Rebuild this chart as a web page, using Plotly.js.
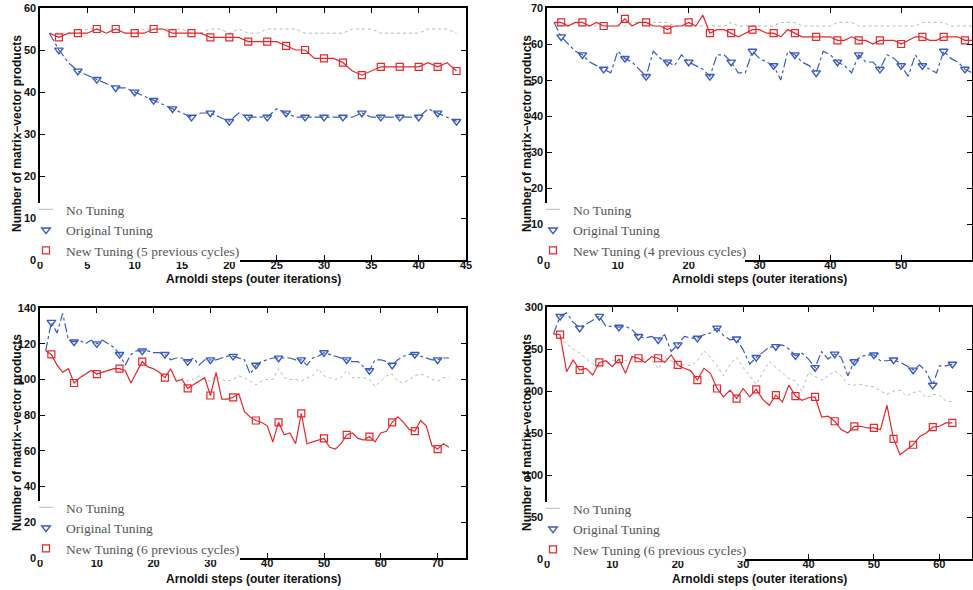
<!DOCTYPE html>
<html><head><meta charset="utf-8">
<script src="https://cdn.plot.ly/plotly-3.0.1.min.js"></script>
<style>html,body{margin:0;padding:0;background:#fff}#chart{width:973px;height:590px}</style>
</head><body><div id="chart"></div>
<script>
// ---------- DATA ----------
const tlSteps = [1,2,3,4,5,6,7,8,9,10,11,12,13,14,15,16,17,18,19,20,21,22,23,24,25,26,27,28,29,30,31,32,33,34,35,36,37,38,39,40,41,42,43,44];
const tlNoTuning = [54,54,54,54,55,55,54,55,54,54,55,55,55,55,55,54,54,55,55,54,55,54,54,55,55,55,55,54,54,54,54,54,55,55,55,54,54,54,54,54,55,55,55,54];
const tlOriginal = [54,50,47,45,44,43,42,41,41,40,39,38,37,36,35,34,35,35,34,33,35,34,34,34,36,35,34,34,34,34,34,34,34,35,34,34,34,34,34,34,36,35,34,33];
const tlNew = [54,53,54,54,54,55,54,55,54,54,54,55,55,54,54,54,54,53,53,53,53,52,52,52,52,51,50,50,48,48,48,47,45,44,45,46,46,46,46,46,47,46,47,45];

const trSteps = [1,2,3,4,5,6,7,8,9,10,11,12,13,14,15,16,17,18,19,20,21,22,23,24,25,26,27,28,29,30,31,32,33,34,35,36,37,38,39,40,41,42,43,44,45,46,47,48,49,50,51,52,53,54,55,56,57,58,59,60];
const trNoTuning = [66,65,65,66,65,65,65,65,65,65,65,66,66,66,66,66,66,65,65,65,65,65,65,65,65,66,65,65,65,65,65,65,66,66,66,65,65,65,65,65,66,66,66,65,65,65,65,65,65,65,65,65,66,66,66,66,65,65,65,65];
const trOriginal = [66,62,60,58,57,55,54,53,52,58,56,55,53,51,58,56,55,54,57,55,54,53,51,57,57,55,52,52,58,56,55,54,50,58,57,55,54,52,58,57,55,54,52,57,55,55,53,57,56,54,51,57,54,53,52,58,56,55,53,52];
const trNew = [66,66,65,66,66,65,66,65,65,65,67,65,66,66,65,65,64,65,65,66,65,68,63,64,64,63,62,63,64,64,63,63,62,64,63,62,62,62,62,62,61,61,62,61,61,60,61,61,61,60,61,62,62,61,61,62,62,62,61,61];

const blSteps = [1,2,3,4,5,6,7,8,9,10,11,12,13,14,15,16,17,18,19,20,21,22,23,24,25,26,27,28,29,30,31,32,33,34,35,36,37,38,39,40,41,42,43,44,45,46,47,48,49,50,51,52,53,54,55,56,57,58,59,60,61,62,63,64,65,66,67,68,69,70,71,72];
const blNoTuning = [116,114,108,104,106,98,101,103,105,103,104,105,106,106,105,98,104,110,107,106,104,101,106,99,101,99,100,102,100,99,102,100,99,100,102,101,99,97,99,100,100,106,101,100,100,99,101,102,106,102,101,100,101,105,101,101,101,100,96,99,102,103,99,98,100,102,103,102,100,99,101,101];
const blOriginal = [116,132,126,137,122,121,122,120,122,120,122,120,118,114,108,114,116,116,116,115,115,114,111,112,112,110,112,108,111,111,111,112,113,113,112,111,103,108,110,111,112,112,112,112,111,111,108,112,113,115,114,113,112,111,110,110,107,105,111,111,110,108,111,113,114,114,113,112,111,111,112,112];
const blNew = [116,114,108,104,106,98,101,103,105,103,104,105,106,106,105,98,104,110,107,106,104,101,106,99,100,95,97,99,101,91,104,89,89,90,92,82,79,77,76,74,65,76,69,70,64,81,64,65,66,67,62,61,64,69,70,67,66,68,65,70,71,76,79,76,72,71,77,74,63,61,64,62];

const brSteps = [1,2,3,4,5,6,7,8,9,10,11,12,13,14,15,16,17,18,19,20,21,22,23,24,25,26,27,28,29,30,31,32,33,34,35,36,37,38,39,40,41,42,43,44,45,46,47,48,49,50,51,52,53,54,55,56,57,58,59,60,61,62];
const brNoTuning = [268,262,255,250,245,238,232,228,232,236,238,236,238,240,237,238,226,240,236,233,231,230,236,248,240,230,218,232,240,228,218,208,222,235,228,222,215,212,200,222,218,213,218,224,218,208,207,208,206,205,200,196,200,201,194,198,200,192,196,195,188,187];
const brOriginal = [268,289,293,282,275,280,285,289,277,277,276,277,273,265,263,265,261,267,247,255,265,263,263,267,269,275,266,261,262,249,232,240,246,252,253,255,250,242,245,238,228,247,238,244,240,218,235,241,243,243,236,236,237,234,230,225,231,223,207,230,230,232];
const brNew = [268,267,223,237,225,227,219,234,236,229,238,221,241,239,234,241,239,234,243,231,227,224,213,227,221,203,193,201,191,203,193,202,190,183,195,187,207,194,189,192,193,169,170,164,154,150,158,158,156,156,154,183,143,124,130,136,146,150,157,158,162,162];

const seriesNames = ['No Tuning', 'Original Tuning'];
const newTuningNames = ['New Tuning (5 previous cycles)', 'New Tuning (4 previous cycles)', 'New Tuning (6 previous cycles)', 'New Tuning (6 previous cycles)'];
const xTitle = 'Arnoldi steps (outer iterations)';
const yTitle = 'Number of matrix\u2212vector products';

// ---------- STYLE / LAYOUT ----------
const W = 973, H = 590;
const RED = '#e8262b', BLUE = '#3a5bbf', GRAY = '#b8b8b8';
const panels = [
  {id:'', steps:tlSteps, no:tlNoTuning, orig:tlOriginal, nw:tlNew, every:2, x0:40, x1:466, y0:8, y1:260, xr:[0,45], yr:[0,60], dx:5, dy:10, boxW:200, xtY:279, ytX:17},
  {id:'2', steps:trSteps, no:trNoTuning, orig:trOriginal, nw:trNew, every:3, x0:547, x1:972, y0:8, y1:260, xr:[0,60], yr:[0,70], dx:10, dy:10, boxW:198, xtY:279, ytX:527},
  {id:'3', steps:blSteps, no:blNoTuning, orig:blOriginal, nw:blNew, every:4, x0:40, x1:466, y0:308, y1:558, xr:[0,75], yr:[0,140], dx:10, dy:20, boxW:200, xtY:579, ytX:17},
  {id:'4', steps:brSteps, no:brNoTuning, orig:brOriginal, nw:brNew, every:3, x0:547, x1:972, y0:307, y1:559, xr:[0,65], yr:[0,300], dx:10, dy:50, boxW:198, xtY:579, ytX:527}
];

const traces = [];
const layout = {
  width: W, height: H, margin: {l:0, r:0, t:0, b:0},
  paper_bgcolor: '#fff', plot_bgcolor: '#fff',
  showlegend: true, shapes: [], annotations: []
};
const tickFont = {family: 'Liberation Sans, Arial, sans-serif', size: 11, weight: 'bold', color: '#111'};
const titleFont = {family: 'Liberation Sans, Arial, sans-serif', size: 12, weight: 'bold', color: '#111'};
const legFont = {family: 'Liberation Serif, Times New Roman, serif', size: 13.5, color: '#555'};

panels.forEach((p, i) => {
  const xa = 'x' + p.id, ya = 'y' + p.id;
  const leg = 'legend' + p.id;
  const mIdx = (s) => (s - 2) % p.every === 0;
  const mx = p.steps.filter(mIdx);
  const moY = p.orig.filter((v, k) => mIdx(p.steps[k]));
  const mnY = p.nw.filter((v, k) => mIdx(p.steps[k]));
  // lines
  traces.push({x:p.steps, y:p.no, xaxis:xa, yaxis:ya, mode:'lines', line:{color:GRAY, width:1, dash:'dot'}, showlegend:false, hoverinfo:'skip'});
  traces.push({x:p.steps, y:p.orig, xaxis:xa, yaxis:ya, mode:'lines', line:{color:BLUE, width:1.2, dash:'dashdot'}, showlegend:false, hoverinfo:'skip'});
  traces.push({x:p.steps, y:p.nw, xaxis:xa, yaxis:ya, mode:'lines', line:{color:RED, width:1.2}, showlegend:false, hoverinfo:'skip'});
  // legend entries
  traces.push({x:[null], y:[null], xaxis:xa, yaxis:ya, mode:'markers', name:seriesNames[0], legend:leg,
    marker:{symbol:'line-ew-open', size:10, color:GRAY, line:{width:1, color:GRAY}}});
  traces.push({x:mx, y:moY, xaxis:xa, yaxis:ya, mode:'markers', name:seriesNames[1], legend:leg,
    marker:{symbol:'triangle-down-open', size:7.5, color:BLUE, line:{width:1.4, color:BLUE}}});
  traces.push({x:mx, y:mnY, xaxis:xa, yaxis:ya, mode:'markers', name:newTuningNames[i], legend:leg,
    marker:{symbol:'square-open', size:7, color:RED, line:{width:1.2, color:RED}}});

  const axCommon = {showgrid:false, zeroline:false, showline:true, linecolor:'#000', linewidth:1.6, mirror:'ticks',
    ticks:'inside', ticklen:5, tickwidth:1, tickcolor:'#000', tickfont:tickFont, fixedrange:true};
  layout['xaxis' + p.id] = Object.assign({}, axCommon, {domain:[p.x0/W, p.x1/W], range:p.xr, dtick:p.dx, tick0:0, anchor:ya, ticklabelstandoff:-6});
  layout['yaxis' + p.id] = Object.assign({}, axCommon, {domain:[1 - p.y1/H, 1 - p.y0/H], range:p.yr, dtick:p.dy, tick0:0, anchor:xa});

  layout[leg] = {x:(p.x0 - 14)/W, xanchor:'left', y:1 - (p.y1 + 6)/H, yanchor:'bottom',
    bgcolor:'rgba(0,0,0,0)', borderwidth:0, font:legFont, itemwidth:30, traceorder:'normal'};

  layout.shapes.push({type:'rect', xref:'paper', yref:'paper', layer:'above',
    x0:(p.x0 - 2)/W, x1:(p.x0 + p.boxW)/W, y0:1 - (p.y1 + 2)/H, y1:1 - (p.y1 - 57)/H,
    fillcolor:'#fff', line:{width:0}});

  layout.annotations.push({xref:'paper', yref:'paper', x:(p.x0 + p.x1)/2/W, y:1 - p.xtY/H, text:xTitle,
    showarrow:false, font:titleFont, xanchor:'center', yanchor:'middle'});
  layout.annotations.push({xref:'paper', yref:'paper', x:p.ytX/W, y:1 - (p.y0 + p.y1)/2/H, text:yTitle,
    showarrow:false, font:titleFont, textangle:-90, xanchor:'center', yanchor:'middle'});
});

Plotly.newPlot('chart', traces, layout, {staticPlot:true, displayModeBar:false});
</script>
</body></html>
